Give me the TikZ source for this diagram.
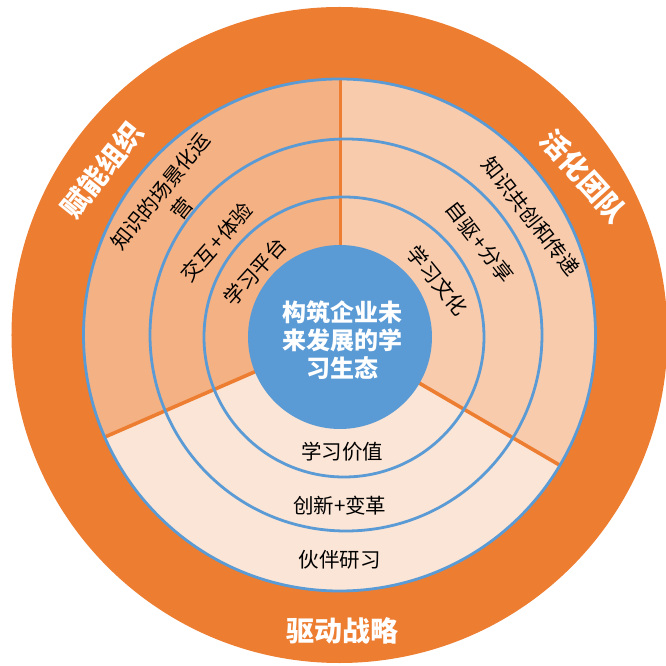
\documentclass[tikz,border=0pt]{standalone}
\usepackage{fontspec}
\usetikzlibrary{calc}
\setmainfont{Noto Sans CJK SC}
\definecolor{ringorange}{HTML}{ED7D31}
\definecolor{secA}{HTML}{F4B183}
\definecolor{secB}{HTML}{F8CBAD}
\definecolor{secC}{HTML}{FBE5D6}
\definecolor{ringblue}{HTML}{5B9BD5}
\newcommand{\plusgap}{\hspace{1.5pt}+\hspace{1.5pt}}
\tikzset{
  ringline/.style={draw=ringblue, line width=2.8pt},
  divider/.style={draw=ringorange, line width=3.6pt},
  sectortext/.style={font=\fontsize{20.5}{27}\selectfont, text=black, align=center, inner sep=0pt},
  outerlabel/.style={font=\fontsize{28}{32}\selectfont\bfseries, text=white, inner sep=0pt},
  coretext/.style={font=\fontsize{24}{27.7}\selectfont\bfseries, text=white, align=center, inner sep=0pt}
}
\begin{document}
\begin{tikzpicture}[x=1pt,y=1pt]
\useasboundingbox (-339.5,-331) rectangle (326.5,335);
% outer orange disc
\fill[ringorange] (0,0) circle (328);
% sectors
\fill[secA] (0,0) -- (90:256) arc (90:203.5:256) -- cycle;
\fill[secB] (0,0) -- (-30.3:256) arc (-30.3:90:256) -- cycle;
\fill[secC] (0,0) -- (203.5:256) arc (203.5:329.7:256) -- cycle;
% dividers
\coordinate (d1a) at (0.8,90);
\coordinate (d1b) at (0.8,256);
\coordinate (d2a) at (203.5:92);
\coordinate (d2b) at (203.5:256);
\coordinate (d3a) at ($(0,-1.5)+(-30.3:92)$);
\coordinate (d3b) at ($(0,-1.5)+(-30.3:256)$);
\draw[divider] (d1a) -- (d1b);
\draw[divider] (d2a) -- (d2b);
\draw[divider] (d3a) -- (d3b);
% rings
\draw[ringline] (0,0) circle (256);
\draw[ringline] (6.5,0) circle (196);
\draw[ringline] (4.5,-2) circle (140);
% core disc
\fill[ringblue] (0.5,-2) circle (92);
\node[coretext] (core) at (2.5,-5) {构筑企业未\\来发展的学\\习生态};
% top-left sector
\node[sectortext, rotate=51] (tl1) at (-168.5,135.3) {知识的场景化运\\营};
\node[sectortext, rotate=48.5] (tl2) at (-122.8,92.9) {交互\plusgap 体验};
\node[sectortext, rotate=48] (tl3) at (-84.6,63.1) {学习平台};
% top-right sector
\node[sectortext, rotate=-52] (tr1) at (191.5,118.3) {知识共创和传递};
\node[sectortext, rotate=-52] (tr2) at (140.5,92.9) {自驱\plusgap 分享};
\node[sectortext, rotate=-51] (tr3) at (98.1,54.6) {学习文化};
% bottom sector
\node[sectortext] (b1) at (2.5,-116.2) {学习价值};
\node[sectortext] (b2) at (0.3,-170.5) {创新+变革};
\node[sectortext] (b3) at (0.3,-225) {伙伴研习};
% outer labels
\node[outerlabel, rotate=51.3] (o1) at (-237.5,165) {赋能组织};
\node[outerlabel, rotate=-48] (o2) at (244.6,158.7) {活化团队};
\node[outerlabel] (o3) at (2.5,-295.8) {驱动战略};
\end{tikzpicture}
\end{document}
